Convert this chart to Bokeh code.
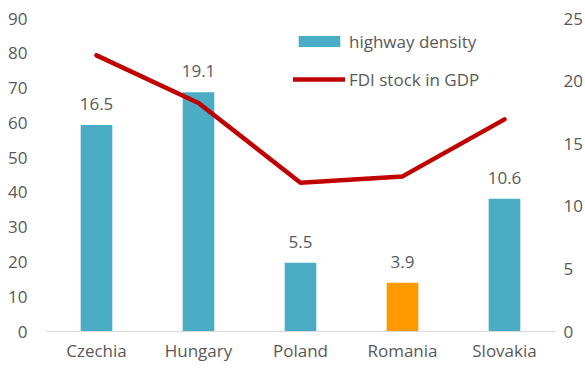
from bokeh.plotting import figure
from bokeh.models import (FactorRange, Range1d, LinearAxis, FixedTicker,
                          ColumnDataSource, Legend, LegendItem)
from bokeh.embed import file_html
from bokeh.resources import INLINE
from bokeh.core.properties import value

countries = ["Czechia", "Hungary", "Poland", "Romania", "Slovakia"]
highway_density = [16.5, 19.1, 5.5, 3.9, 10.6]
fdi_stock_gdp = [79.4, 65.7, 42.8, 44.6, 61.0]
bar_colors = ["#4BACC6", "#4BACC6", "#4BACC6", "#FF9900", "#4BACC6"]
left_ticks = [0, 10, 20, 30, 40, 50, 60, 70, 80, 90]
right_ticks = [0, 5, 10, 15, 20, 25]

FONT = "Open Sans"
TXT = "#595959"
FS = "17px"

src = ColumnDataSource(dict(
    x=countries, hd=highway_density, fdi=fdi_stock_gdp, color=bar_colors,
    lbl=[f"{v:.1f}" for v in highway_density],
))

p = figure(width=585, height=376, output_backend="svg", toolbar_location=None,
           x_range=FactorRange(*countries, range_padding=0),
           y_range=Range1d(0, 90),
           min_border_left=45, min_border_right=29,
           min_border_top=18, min_border_bottom=45)
p.extra_y_ranges = {"right": Range1d(0, 25)}

p.outline_line_color = None
p.background_fill_color = "white"
p.border_fill_color = "white"
p.grid.visible = False

bars = p.vbar(x="x", top="hd", width=0.31, color="color", source=src,
              y_range_name="right", line_color=None)
line = p.line(x="x", y="fdi", source=src, line_color="#C00000", line_width=4.5,
              line_join="round", line_cap="round")
p.text(x="x", y="hd", text="lbl", source=src, y_range_name="right",
       text_align="center", text_baseline="bottom", y_offset=-15,
       text_font=value(FONT), text_font_size=FS, text_color=TXT)

def style_axis(ax, standoff):
    ax.major_tick_line_color = None
    ax.minor_tick_line_color = None
    ax.major_tick_out = 0
    ax.major_tick_in = 0
    ax.minor_tick_out = 0
    ax.minor_tick_in = 0
    ax.major_label_standoff = standoff
    ax.major_label_text_font = FONT
    ax.major_label_text_font_size = FS
    ax.major_label_text_color = TXT

xa = p.xaxis[0]
style_axis(xa, 7)
xa.axis_line_color = "#D9D9D9"
xa.axis_line_width = 1

ya = p.yaxis[0]
style_axis(ya, 18)
ya.ticker = FixedTicker(ticks=left_ticks)
ya.axis_line_color = None

ra = LinearAxis(y_range_name="right", ticker=FixedTicker(ticks=right_ticks))
style_axis(ra, 8)
ra.axis_line_color = None
p.add_layout(ra, "right")

legend = Legend(items=[
    LegendItem(label="highway density", renderers=[bars], index=0),
    LegendItem(label="FDI stock in GDP", renderers=[line]),
], location=(248, 240))
legend.glyph_width = 52
legend.glyph_height = 14
legend.label_height = 24
legend.spacing = 14
legend.label_standoff = 4
legend.padding = 0
legend.margin = 0
legend.border_line_color = None
legend.background_fill_alpha = 0
legend.label_text_font = FONT
legend.label_text_font_size = FS
legend.label_text_color = TXT
p.add_layout(legend)

open("out.html", "w").write(file_html(p, INLINE))
